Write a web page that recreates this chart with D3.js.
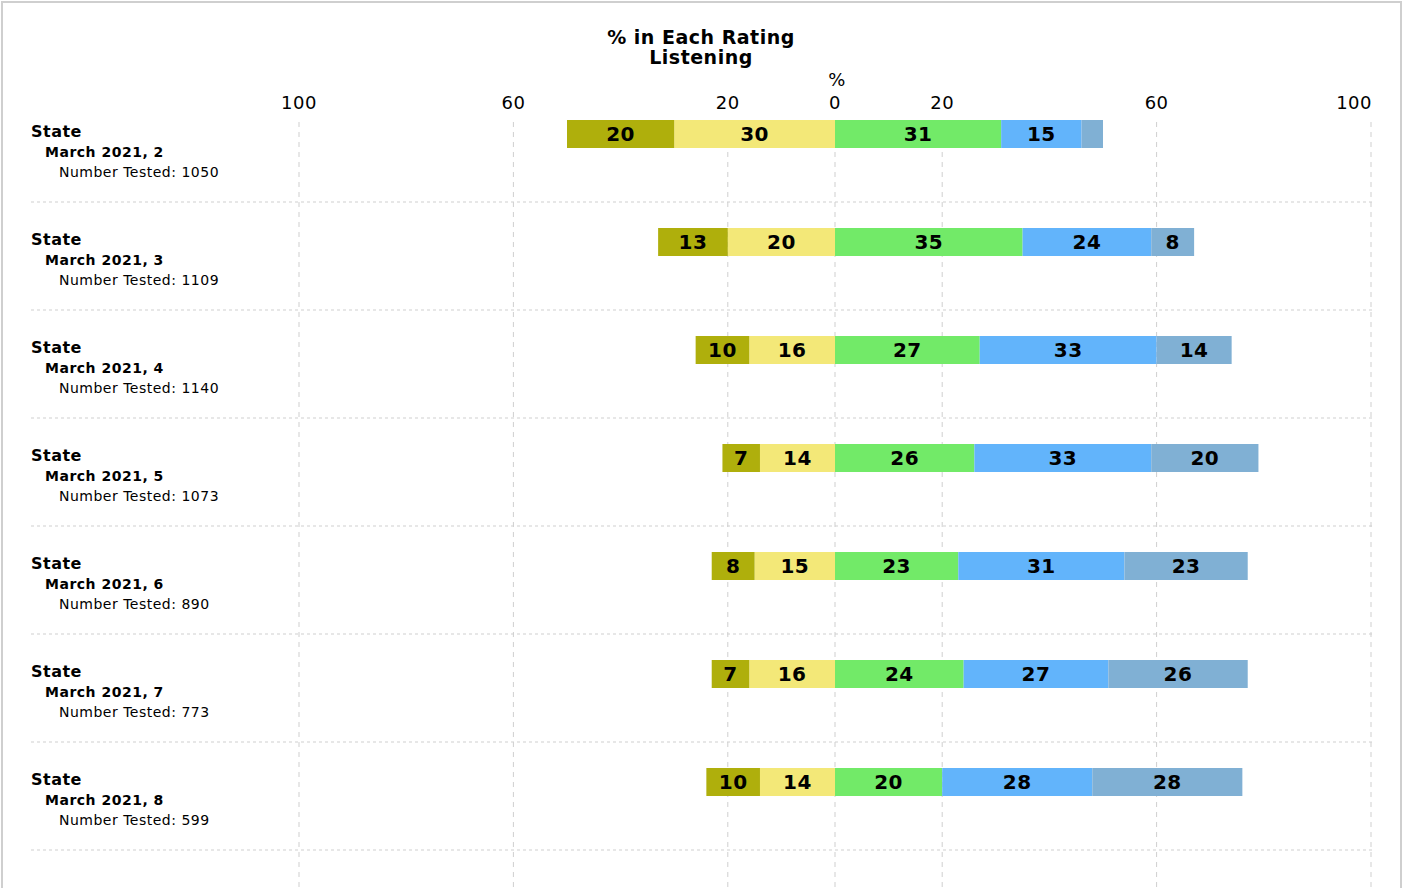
<!DOCTYPE html>
<html>
<head>
<meta charset="utf-8">
<script src="https://cdn.jsdelivr.net/npm/d3@7"></script>
<style>
  body { margin: 0; background: #fff; }
  svg { font-family: "DejaVu Sans", sans-serif; }
  .grid { stroke: #cfcfcf; stroke-width: 1; }
  .tick-label { font-size: 18px; fill: #000; letter-spacing: 0.5px; }
  .bar-label { font-size: 20px; font-weight: bold; fill: #000; letter-spacing: 0.5px; }
  .lbl { letter-spacing: 0.5px; }
</style>
</head>
<body>
<div id="chart"></div>
<script>
// rows
var groups = ["State", "State", "State", "State", "State", "State", "State"];
var subgroups = ["March 2021, 2", "March 2021, 3", "March 2021, 4", "March 2021, 5",
                 "March 2021, 6", "March 2021, 7", "March 2021, 8"];
var tested = [1050, 1109, 1140, 1073, 890, 773, 599];

// negative side (outer first), positive side (inner first)
var level1 = [20, 13, 10, 7, 8, 7, 10];
var level2 = [30, 20, 16, 14, 15, 16, 14];
var level3 = [31, 35, 27, 26, 23, 24, 20];
var level4 = [15, 24, 33, 33, 31, 27, 28];
var level5 = [4, 8, 14, 20, 23, 26, 28];

var tickValues = [-100, -60, -20, 0, 20, 60, 100];
var colors = ["#afaf0c", "#f3e878", "#72ea68", "#62b4fb", "#80b0d4"];

var width = 1403, height = 888;
var rowTop = 94, rowH = 108, barH = 28, barOff = 26;

var svg = d3.select("#chart").append("svg")
  .attr("width", width).attr("height", height);

// frame
svg.append("rect").attr("x", 2).attr("y", 2).attr("width", width - 4).attr("height", height + 10)
  .attr("fill", "none").attr("stroke", "#cfcfcf").attr("stroke-width", 2);

var x = d3.scaleLinear().domain([-100, 100]).range([299, 1371]);

// titles
svg.append("text").attr("class", "lbl").attr("x", 701).attr("y", 44).attr("text-anchor", "middle")
  .style("font-size", "19px").style("font-weight", "bold").text("% in Each Rating");
svg.append("text").attr("class", "lbl").attr("x", 701).attr("y", 64).attr("text-anchor", "middle")
  .style("font-size", "19px").style("font-weight", "bold").text("Listening");
svg.append("text").attr("x", x(0) + 2).attr("y", 86).attr("text-anchor", "middle")
  .attr("class", "tick-label").text("%");

// tick labels
svg.selectAll("text.tick-label.t").data(tickValues).enter().append("text")
  .attr("class", "tick-label t")
  .attr("x", function (d, i) { return i === tickValues.length - 1 ? x(d) + 1 : x(d); })
  .attr("y", 109)
  .attr("text-anchor", function (d, i) { return i === tickValues.length - 1 ? "end" : "middle"; })
  .text(function (d) { return Math.abs(d); });

// vertical grid
svg.selectAll("line.v").data(tickValues).enter().append("line")
  .attr("class", "grid v")
  .attr("x1", function (d) { return x(d); }).attr("x2", function (d) { return x(d); })
  .attr("y1", 122).attr("y2", height)
  .attr("stroke-dasharray", "5,5");

// horizontal separators
svg.selectAll("line.h").data(groups).enter().append("line")
  .attr("class", "grid h")
  .attr("x1", 31).attr("x2", 1373)
  .attr("y1", function (d, i) { return rowTop + rowH * (i + 1); })
  .attr("y2", function (d, i) { return rowTop + rowH * (i + 1); })
  .attr("stroke-dasharray", "3,3");

// row labels
var rows = svg.selectAll("g.row").data(groups).enter().append("g")
  .attr("class", "row")
  .attr("transform", function (d, i) { return "translate(0," + (rowTop + rowH * i) + ")"; });

rows.append("text").attr("class", "lbl").attr("x", 31).attr("y", 43)
  .style("font-size", "16px").style("font-weight", "bold")
  .text(function (d) { return d; });
rows.append("text").attr("class", "lbl").attr("x", 45).attr("y", 63)
  .style("font-size", "14px").style("font-weight", "bold")
  .text(function (d, i) { return subgroups[i]; });
rows.append("text").attr("class", "lbl").attr("x", 59).attr("y", 83)
  .style("font-size", "14px")
  .text(function (d, i) { return "Number Tested: " + tested[i]; });

// build segments
var segs = [];
groups.forEach(function (g, i) {
  var pos = [level3[i], level4[i], level5[i]];
  var start = 0;
  segs.push({row: i, x0: -level2[i], x1: 0, v: level2[i], c: colors[1]});
  segs.push({row: i, x0: -level2[i] - level1[i], x1: -level2[i], v: level1[i], c: colors[0]});
  pos.forEach(function (v, k) {
    segs.push({row: i, x0: start, x1: start + v, v: v, c: colors[k + 2]});
    start += v;
  });
});

var bars = svg.selectAll("g.seg").data(segs).enter().append("g").attr("class", "seg");
bars.append("rect")
  .attr("x", function (d) { return x(d.x0); })
  .attr("width", function (d) { return x(d.x1) - x(d.x0); })
  .attr("y", function (d) { return rowTop + rowH * d.row + barOff; })
  .attr("height", barH)
  .attr("fill", function (d) { return d.c; });
bars.filter(function (d) { return d.v >= 5; }).append("text")
  .attr("class", "bar-label")
  .attr("x", function (d) { return (x(d.x0) + x(d.x1)) / 2; })
  .attr("y", function (d) { return rowTop + rowH * d.row + barOff + 21; })
  .attr("text-anchor", "middle")
  .text(function (d) { return d.v; });
</script>
</body>
</html>
